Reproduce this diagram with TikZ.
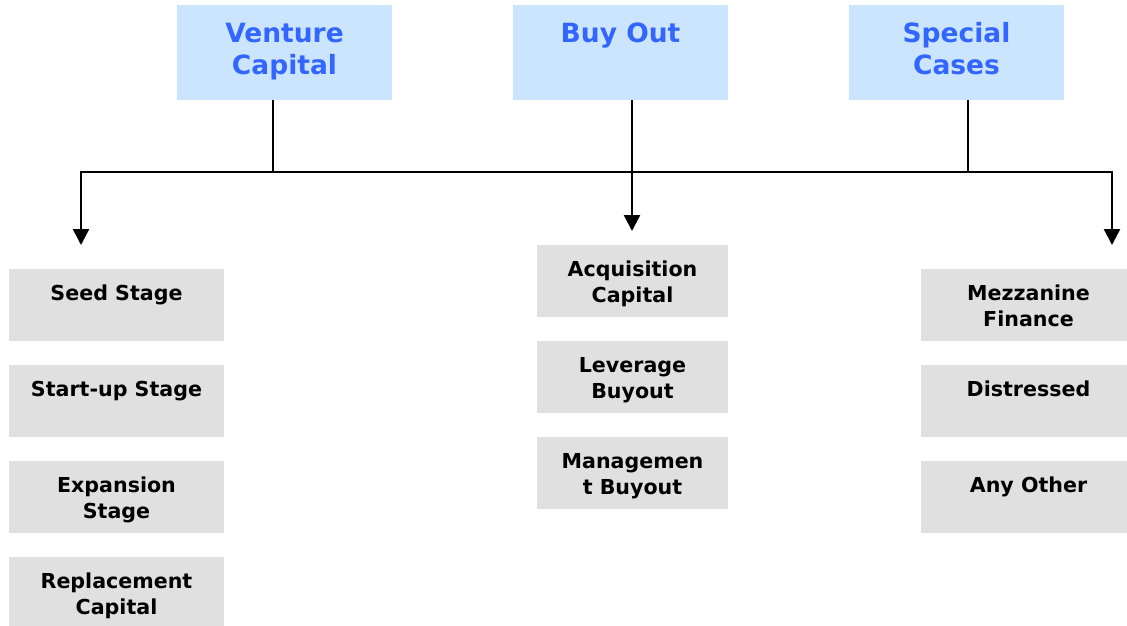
\documentclass[tikz,border=0pt]{standalone}
\usepackage{fontspec}
\setmainfont{DejaVu Sans}
\usetikzlibrary{arrows.meta}
\definecolor{topfill}{HTML}{CCE5FF}
\definecolor{topblue}{HTML}{3366FF}
\definecolor{subfill}{HTML}{E0E0E0}
\newcommand{\topbox}[1]{\parbox[c][95pt][t]{215pt}{\centering\fontsize{26.5pt}{32pt}\selectfont\bfseries\rule{0pt}{37pt}#1}}
\newcommand{\subbox}[2]{\parbox[c][72pt][t]{#1}{\centering\fontsize{20.6pt}{26pt}\selectfont\bfseries\rule{0pt}{31pt}#2}}
\begin{document}
\begin{tikzpicture}[x=1pt,y=-1pt,
  topnode/.style={fill=topfill,text=topblue,inner sep=0pt,outer sep=0pt},
  subnode/.style={fill=subfill,text=black,inner sep=0pt,outer sep=0pt},
  conn/.style={line width=2.4pt,draw=black},
  arr/.style={conn,-{Triangle[width=16pt,length=16pt]}}]
\useasboundingbox (0,0) rectangle (1127,625);
% top boxes
\node[topnode] (vc) at (284.5,52.5) {\topbox{Venture\\Capital}};
\node[topnode] (bo) at (620.5,52.5) {\topbox{Buy Out}};
\node[topnode] (sc) at (956.5,52.5) {\topbox{Special\\Cases}};
% left column
\node[subnode] (seed) at (116.5,305) {\subbox{215pt}{Seed Stage}};
\node[subnode] (start) at (116.5,401) {\subbox{215pt}{Start-up Stage}};
\node[subnode] (exp) at (116.5,497) {\subbox{215pt}{Expansion\\Stage}};
\node[subnode] (rep) at (116.5,593) {\subbox{215pt}{Replacement\\Capital}};
% middle column
\node[subnode] (acq) at (632.5,281) {\subbox{191pt}{Acquisition\\Capital}};
\node[subnode] (lev) at (632.5,377) {\subbox{191pt}{Leverage\\Buyout}};
\node[subnode] (man) at (632.5,473) {\subbox{191pt}{Managemen\\t Buyout}};
% right column
\node[subnode] (mez) at (1028.5,305) {\subbox{215pt}{Mezzanine\\Finance}};
\node[subnode] (dis) at (1028.5,401) {\subbox{215pt}{Distressed}};
\node[subnode] (any) at (1028.5,497) {\subbox{215pt}{Any Other}};
% connector coordinates
\coordinate (j1) at (273,172);
\coordinate (j3) at (968,172);
\coordinate (jl) at (81,172);
\coordinate (jr) at (1112,172);
\coordinate (tl) at (81,245);
\coordinate (tm) at (632,231);
\coordinate (tr) at (1112,245);
% connectors
\draw[conn] (vc.south -| j1) -- (j1);
\draw[conn] (sc.south -| j3) -- (j3);
\draw[conn] (j1) -- (j3);
\draw[arr] (j1) -- (jl) -- (tl);
\draw[arr] (j3) -- (jr) -- (tr);
\draw[arr] (bo.south -| tm) -- (tm);
\end{tikzpicture}
\end{document}
